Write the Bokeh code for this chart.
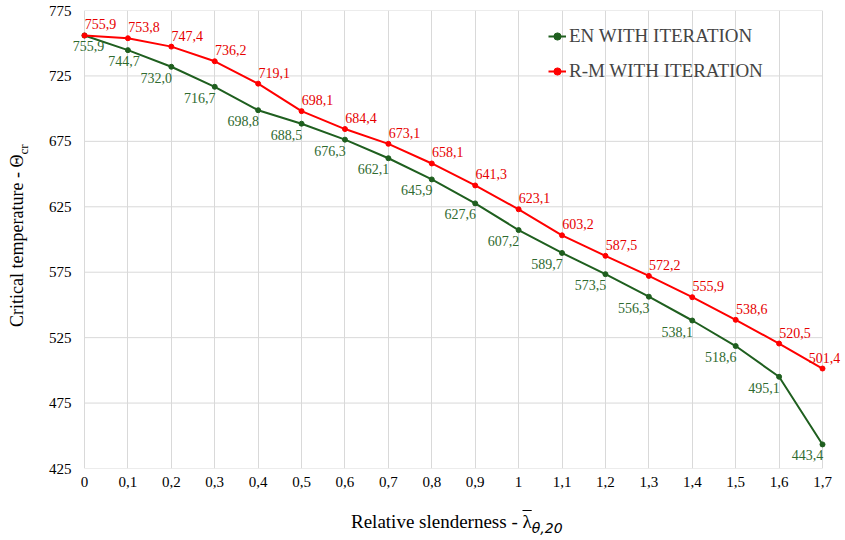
import numpy as np
from bokeh.plotting import figure
from bokeh.layouts import column, row
from bokeh.models import (ColumnDataSource, FixedTicker, Range1d, Legend, LegendItem,
                          LabelSet, Div)
from bokeh.embed import file_html
from bokeh.resources import INLINE

categories = ["0", "0,1", "0,2", "0,3", "0,4", "0,5", "0,6", "0,7", "0,8", "0,9",
              "1", "1,1", "1,2", "1,3", "1,4", "1,5", "1,6", "1,7"]
en_with_iteration = [755.9, 744.7, 732.0, 716.7, 698.8, 688.5, 676.3, 662.1, 645.9,
                     627.6, 607.2, 589.7, 573.5, 556.3, 538.1, 518.6, 495.1, 443.4]
rm_with_iteration = [755.9, 753.8, 747.4, 736.2, 719.1, 698.1, 684.4, 673.1, 658.1,
                     641.3, 623.1, 603.2, 587.5, 572.2, 555.9, 538.6, 520.5, 501.4]
y_ticks = [425, 475, 525, 575, 625, 675, 725, 775]

FONT = "Liberation Serif"
GREEN = "#1f5f1f"
GREEN_TXT = "#2f6a2f"
RED = "#ff0000"
RED_TXT = "#e60000"
GRID = "#d9d9d9"

xs = [float(c.replace(",", ".")) for c in categories]
n = len(xs)
fmt = lambda v: f"{v:.1f}".replace(".", ",")

en_dx = np.full(n, -15.0); en_dx[0] = 4; en_dx[1] = -4
rm_dx = np.full(n, 16.0); rm_dx[-1] = 2

src_en = ColumnDataSource(dict(x=xs, y=en_with_iteration,
                               lbl=[fmt(v) for v in en_with_iteration], dx=en_dx))
src_rm = ColumnDataSource(dict(x=xs, y=rm_with_iteration,
                               lbl=[fmt(v) for v in rm_with_iteration], dx=rm_dx))

# frame: data span 0..1.7 is 738 px wide; a little room left/right for the end labels
span = xs[-1] - xs[0]
pad_l, pad_r = span * 12 / 738, span * 18 / 738

YT_W = 30
p = figure(width=845 - YT_W, height=500, output_backend="svg", toolbar_location=None,
           x_range=Range1d(xs[0] - pad_l, xs[-1] + pad_r),
           y_range=Range1d(y_ticks[0], y_ticks[-1]),
           min_border_left=72 - YT_W, min_border_right=5, min_border_top=10,
           min_border_bottom=32, margin=0)
p.outline_line_color = None
p.background_fill_color = "white"

for ax in (p.xaxis[0], p.yaxis[0]):
    ax.axis_line_color = None
    ax.major_tick_line_color = None
    ax.minor_tick_line_color = None
    ax.major_tick_out = 0
    ax.major_tick_in = 0
    ax.minor_tick_out = 0
    ax.minor_tick_in = 0
    ax.major_label_text_font = FONT
    ax.major_label_text_font_size = "15px"
    ax.major_label_text_color = "#000000"

p.xaxis.ticker = FixedTicker(ticks=xs)
p.xaxis.major_label_overrides = {x: c for x, c in zip(xs, categories)}
p.xaxis.major_label_standoff = 8
p.yaxis.ticker = FixedTicker(ticks=y_ticks)
p.yaxis.major_label_standoff = 1

p.xgrid.grid_line_color = GRID
p.xgrid.ticker = FixedTicker(ticks=xs)
p.ygrid.grid_line_color = None
# horizontal grid lines spanning only the category extent
p.segment(x0=xs[0], x1=xs[-1], y0=y_ticks, y1=y_ticks, line_color=GRID, line_width=1,
          level="underlay")

l_en = p.line("x", "y", source=src_en, line_color=GREEN, line_width=2)
m_en = p.scatter("x", "y", source=src_en, size=5, fill_color=GREEN, line_color=GREEN)
l_rm = p.line("x", "y", source=src_rm, line_color=RED, line_width=2)
m_rm = p.scatter("x", "y", source=src_rm, size=5, fill_color=RED, line_color=RED)

p.add_layout(LabelSet(x="x", y="y", text="lbl", source=src_en, x_offset="dx", y_offset=-11,
                      text_align="center", text_baseline="middle", text_font=FONT,
                      text_font_size="14px", text_color=GREEN_TXT))
p.add_layout(LabelSet(x="x", y="y", text="lbl", source=src_rm, x_offset="dx", y_offset=11,
                      text_align="center", text_baseline="middle", text_font=FONT,
                      text_font_size="14px", text_color=RED_TXT))

legend = Legend(items=[LegendItem(label="EN WITH ITERATION", renderers=[l_en, m_en]),
                       LegendItem(label="R-M WITH ITERATION", renderers=[l_rm, m_rm])],
                location=(476, 386), label_text_font=FONT, label_text_font_size="19px",
                glyph_width=18, glyph_height=20, label_height=20, spacing=13,
                padding=0, label_standoff=3, border_line_color=None,
                background_fill_alpha=0)
p.add_layout(legend)

ytitle = Div(width=YT_W, height=500, margin=0, text=(
    f'<div style="position:relative;width:{YT_W}px;height:500px;">'
    '<div style="position:absolute;left:7px;top:327px;transform:rotate(-90deg);'
    'transform-origin:0 0;white-space:nowrap;font-family:\'Liberation Serif\';'
    'font-size:18px;line-height:20px;color:#000;">'
    'Critical temperature - \u0398<span style="font-size:13px;position:relative;top:5px;">cr</span>'
    '</div></div>'))

xtitle = Div(width=845, height=40, margin=0, text=(
    '<div style="position:relative;width:845px;height:40px;">'
    '<div style="position:absolute;left:351px;top:12px;white-space:nowrap;'
    'font-family:\'Liberation Serif\';font-size:19px;line-height:20px;color:#000;">'
    'Relative slenderness - <span style="text-decoration:overline;">\u03bb</span>'
    '<span style="font-family:\'DejaVu Sans\';font-style:italic;font-size:14px;'
    'position:relative;top:5px;">\u03b8,20</span>'
    '</div></div>'))

layout = column(row(ytitle, p, spacing=0, margin=0), xtitle, spacing=0, margin=0)

open("out.html", "w").write(file_html(layout, INLINE))
